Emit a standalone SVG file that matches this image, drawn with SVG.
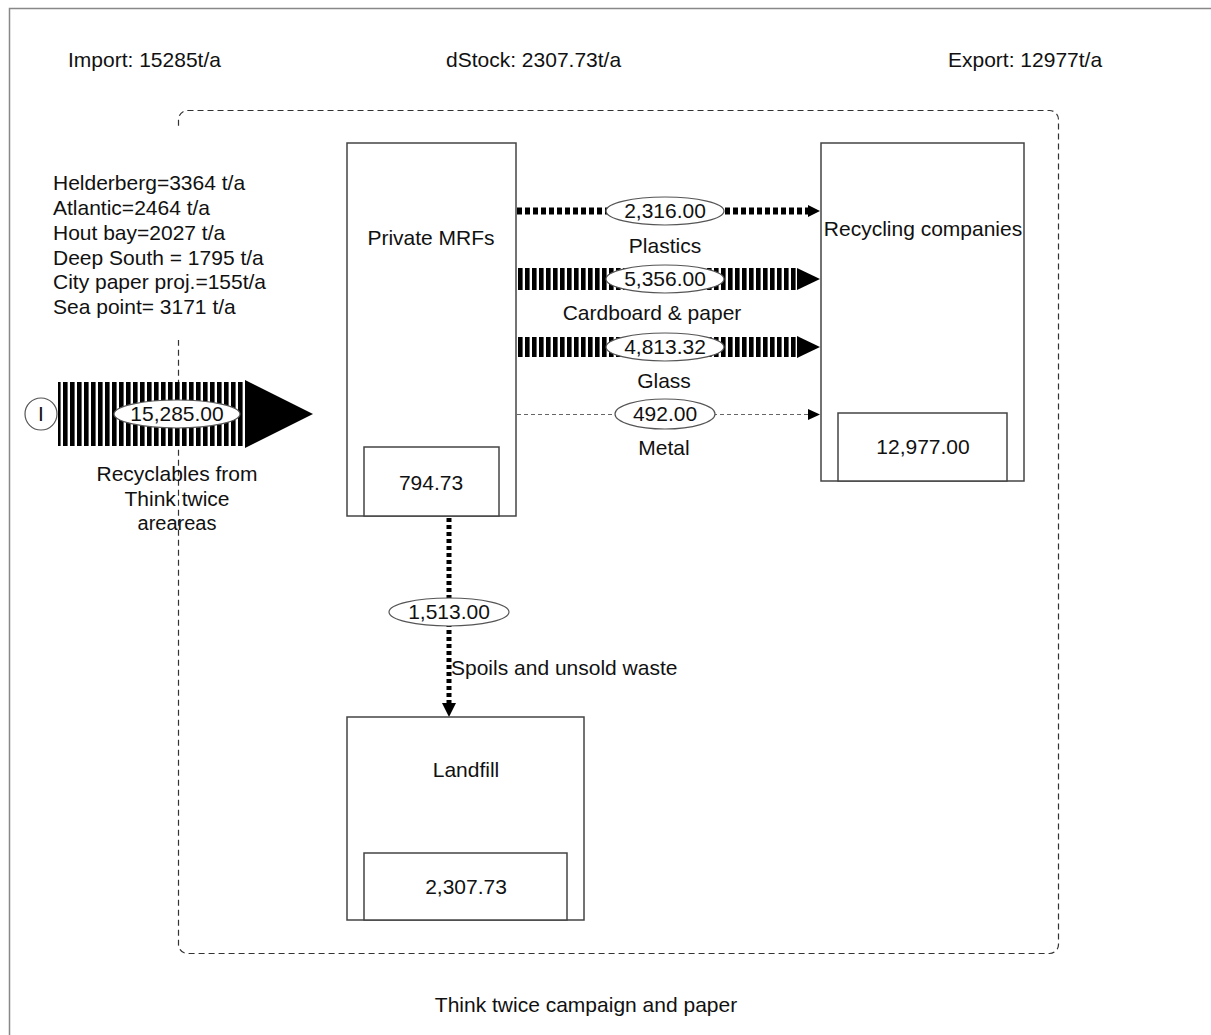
<svg xmlns="http://www.w3.org/2000/svg" width="1211" height="1035" viewBox="0 0 1211 1035">
<defs>
<style>
text{font-family:"Liberation Sans",Arial,sans-serif;font-size:21px;fill:#111;}
.c{text-anchor:middle;}
.box{fill:#fff;stroke:#444;stroke-width:1.5;}
.lbl{fill:#fff;stroke:#555;stroke-width:1.2;}
</style>
<pattern id="stripes" patternUnits="userSpaceOnUse" width="7" height="10">
<rect x="0" y="0" width="4.6" height="10" fill="#000"/>
</pattern>
</defs>
<rect x="0" y="0" width="1211" height="1035" fill="#fff"/>
<rect x="9.5" y="8.5" width="1220" height="1040" fill="none" stroke="#888" stroke-width="1.5"/>
<g id="header">
<text x="68" y="67">Import: 15285t/a</text>
<text x="446" y="67">dStock: 2307.73t/a</text>
<text x="948" y="67">Export: 12977t/a</text>
</g>
<rect id="system-boundary" x="178.5" y="110.5" width="880" height="843" rx="9" fill="none" stroke="#333" stroke-width="1.2" stroke-dasharray="6 4"/>
<g id="sources">
<rect x="48" y="128" width="226" height="212" fill="#fff"/>
<text x="53" y="190">Helderberg=3364 t/a</text>
<text x="53" y="215">Atlantic=2464 t/a</text>
<text x="53" y="240">Hout bay=2027 t/a</text>
<text x="53" y="265">Deep South = 1795 t/a</text>
<text x="53" y="289">City paper proj.=155t/a</text>
<text x="53" y="314">Sea point= 3171 t/a</text>
</g>
<g id="connectors">
<g id="flow-import">
<circle cx="41" cy="414" r="16" fill="#fff" stroke="#555" stroke-width="1.2"/>
<text x="41" y="421" class="c">I</text>
<rect x="58" y="382" width="187" height="64" fill="url(#stripes)"/>
<polygon points="245,380 313,414 245,448" fill="#000"/>
<ellipse cx="177" cy="414" rx="63" ry="14" class="lbl"/>
<text x="177" y="421" class="c">15,285.00</text>
<text x="177" y="481" class="c">Recyclables from</text>
<text x="177" y="506" class="c">Think twice</text>
<text x="177" y="530" class="c" style="font-size:20px">areareas</text>
</g>
<g id="flow-plastics">
<line x1="517" y1="211" x2="808" y2="211" stroke="#000" stroke-width="7" stroke-dasharray="5 3"/>
<polygon points="808,205 820,211 808,217" fill="#000"/>
<ellipse cx="665" cy="211" rx="59" ry="14" class="lbl"/>
<text x="665" y="218" class="c">2,316.00</text>
<text x="665" y="253" class="c">Plastics</text>
</g>
<g id="flow-cardboard">
<rect x="517" y="268" width="280" height="22" fill="url(#stripes)"/>
<polygon points="797,268 820,279 797,290" fill="#000"/>
<ellipse cx="665" cy="279" rx="59" ry="14" class="lbl"/>
<text x="665" y="286" class="c">5,356.00</text>
<text x="652" y="320" class="c">Cardboard &amp; paper</text>
</g>
<g id="flow-glass">
<rect x="517" y="337" width="280" height="20" fill="url(#stripes)"/>
<polygon points="797,336 820,347 797,358" fill="#000"/>
<ellipse cx="665" cy="347" rx="59" ry="14" class="lbl"/>
<text x="665" y="354" class="c">4,813.32</text>
<text x="664" y="388" class="c">Glass</text>
</g>
<g id="flow-metal">
<line x1="517" y1="414.5" x2="809" y2="414.5" stroke="#666" stroke-width="1" stroke-dasharray="4 3"/>
<polygon points="808,409 820,414.5 808,420" fill="#000"/>
<ellipse cx="665" cy="414" rx="50" ry="15" class="lbl"/>
<text x="665" y="421" class="c">492.00</text>
<text x="664" y="455" class="c">Metal</text>
</g>
<g id="flow-landfill">
<line x1="449" y1="518" x2="449" y2="704" stroke="#000" stroke-width="5" stroke-dasharray="4 3"/>
<polygon points="442,703 456,703 449,717" fill="#000"/>
<ellipse cx="449" cy="612" rx="60" ry="14" class="lbl"/>
<text x="449" y="619" class="c">1,513.00</text>
<text x="451" y="675">Spoils and unsold waste</text>
</g>
</g>
<g id="node-mrf">
<rect x="347" y="143" width="169" height="373" class="box"/>
<rect x="364" y="447" width="135" height="69" class="box"/>
<text x="431" y="245" class="c">Private MRFs</text>
<text x="431" y="490" class="c">794.73</text>
</g>
<g id="node-recycling">
<rect x="821" y="143" width="203" height="338" class="box"/>
<rect x="838" y="413" width="169" height="68" class="box"/>
<text x="923" y="236" class="c">Recycling companies</text>
<text x="923" y="454" class="c">12,977.00</text>
</g>
<g id="node-landfill">
<rect x="347" y="717" width="237" height="203" class="box"/>
<rect x="364" y="853" width="203" height="67" class="box"/>
<text x="466" y="777" class="c">Landfill</text>
<text x="466" y="894" class="c">2,307.73</text>
</g>
<text x="586" y="1012" class="c">Think twice campaign and paper</text>
</svg>
